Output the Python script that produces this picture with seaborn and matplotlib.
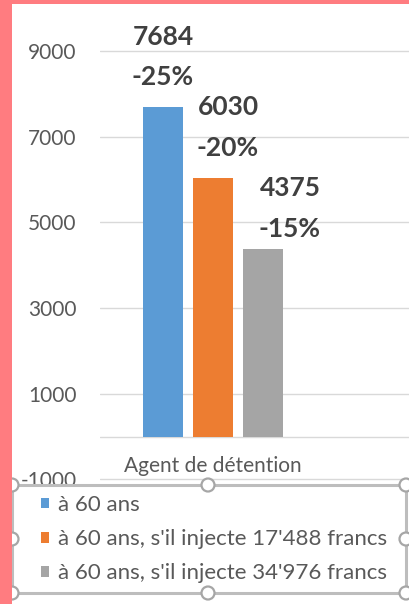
import matplotlib
matplotlib.use("Agg")
import matplotlib.pyplot as plt
from matplotlib.patches import Rectangle, Circle
import pandas as pd
import seaborn as sns

# data
category = ["Agent de détention"]
series = ["à 60 ans",
          "à 60 ans, s'il injecte 17'488 francs",
          "à 60 ans, s'il injecte 34'976 francs"]
values = [7684, 6030, 4375]
pct_labels = ["-25%", "-20%", "-15%"]
y_ticks = [-1000, 1000, 3000, 5000, 7000, 9000]

colors = ["#5B9BD5", "#ED7D31", "#A5A5A5"]
# manual label placement (pixels): dx, dy of value line, dy of percent line
label_offsets = [(0, 70, 30), (15, 71, 30), (27, 61, 20)]


def main():
    sns.set_theme(style="white")
    plt.rcParams["font.family"] = ["Lato", "DejaVu Sans"]

    df = pd.DataFrame({
        "cat": category * len(series),
        "serie": series,
        "val": values,
    })

    fig = plt.figure(figsize=(4.10, 6.04), dpi=100)
    fig.patch.set_facecolor("white")
    ax = fig.add_axes([100 / 410, 0.20258, 310 / 410, 0.71652])

    sns.barplot(data=df, x="cat", y="val", hue="serie", palette=colors,
                width=0.8, gap=0.2, saturation=1, linewidth=0,
                errorbar=None, ax=ax)

    ax.set_ylim(-1050, 9050)
    ax.set_xlim(-113 / 187.5, 197 / 187.5)
    ax.set_yticks(y_ticks)
    ax.set_yticklabels([str(t) for t in y_ticks])
    ax.set_xlabel("")
    ax.set_ylabel("")
    for s in ax.spines.values():
        s.set_visible(False)
    ax.set_axisbelow(True)
    ax.yaxis.grid(True, color="#D9D9D9", linewidth=1.0)
    ax.xaxis.grid(False)
    ax.axhline(0, color="#D9D9D9", linewidth=1.0, zorder=0)
    ax.tick_params(axis="y", length=0, pad=17, labelsize=15, labelcolor="#595959")
    ax.tick_params(axis="x", length=0, pad=-18.5, labelsize=15, labelcolor="#595959")

    # data labels
    bars = [c[0] for c in ax.containers]
    for bar, v, p, (dx, dy1, dy2) in zip(bars, values, pct_labels, label_offsets):
        cx = bar.get_x() + bar.get_width() / 2
        top = bar.get_height()
        ax.annotate(str(v), (cx, top), xytext=(dx, dy1), textcoords="offset pixels",
                    ha="center", va="center", fontsize=19, fontweight="bold",
                    color="#404040", annotation_clip=False)
        ax.annotate(p, (cx, top), xytext=(dx, dy2), textcoords="offset pixels",
                    ha="center", va="center", fontsize=19, fontweight="bold",
                    color="#404040", annotation_clip=False)

    # legend
    handles, labels = ax.get_legend_handles_labels()
    ax.get_legend().remove()
    fig.legend(handles, labels, loc="upper left",
               bbox_to_anchor=(41 / 410, (604 - 495) / 604),
               frameon=False, fontsize=16, labelcolor="#595959",
               handlelength=0.36, handleheight=0.36, handletextpad=0.41,
               labelspacing=0.64, borderpad=0, borderaxespad=0)

    # legend frame with selection handles
    W, H = 410, 604
    fig.patches.append(Rectangle((12 / W, (H - 593) / H), 394 / W, 108 / H,
                                 transform=fig.transFigure, fill=False,
                                 edgecolor="#BDBDBD", linewidth=2.2, zorder=1))
    for (hx, hy) in [(12, 485), (208, 485), (406, 485), (12, 539), (406, 539),
                     (12, 593), (208, 593), (406, 593)]:
        fig.patches.append(Circle((hx, H - hy), 6.5, transform=None,
                                  facecolor="white", edgecolor="#A6A6A6",
                                  linewidth=1.6, zorder=2))

    # pink border
    fig.patches.append(Rectangle((0, 0), 12.5 / W, 1, transform=fig.transFigure,
                                 facecolor="#FF7C80", edgecolor="none", zorder=5))
    fig.patches.append(Rectangle((0, (H - 4) / H), 1, 4 / H, transform=fig.transFigure,
                                 facecolor="#FF7C80", edgecolor="none", zorder=5))

    fig.savefig("out.png", dpi=100)


if __name__ == "__main__":
    main()
